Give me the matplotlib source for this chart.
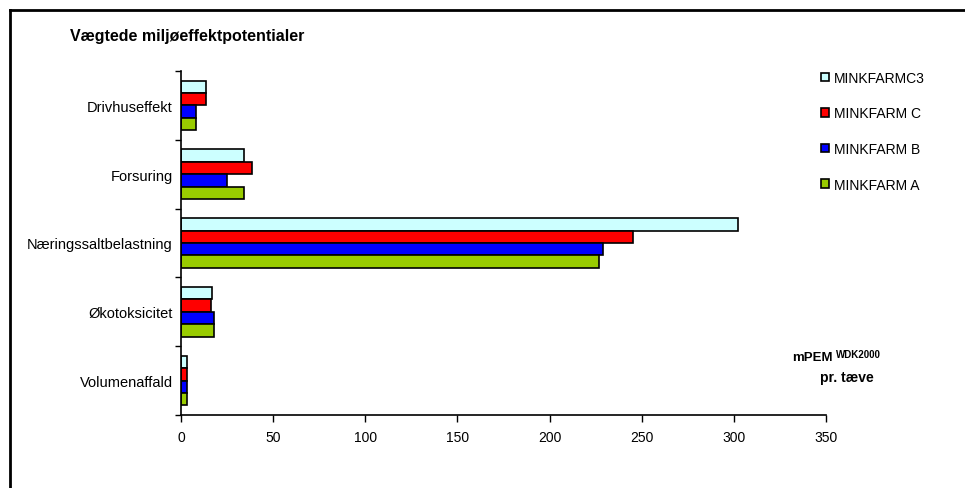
import matplotlib
matplotlib.use("Agg")
import matplotlib.pyplot as plt
import numpy as np
from matplotlib.lines import Line2D
from matplotlib.patches import Patch

plt.rcParams['font.family'] = ['Liberation Sans', 'DejaVu Sans']

categories = ["Drivhuseffekt", "Forsuring", "Næringssaltbelastning", "Økotoksicitet", "Volumenaffald"]
series_names = ["MINKFARMC3", "MINKFARM C", "MINKFARM B", "MINKFARM A"]
minkfarm_c3 = [13.5, 34, 302, 17, 3.5]
minkfarm_c = [13.5, 38.5, 245, 16.5, 3]
minkfarm_b = [8, 25, 229, 18, 3]
minkfarm_a = [8, 34, 227, 18, 3]
xticks = [0, 50, 100, 150, 200, 250, 300, 350]

series = [minkfarm_c3, minkfarm_c, minkfarm_b, minkfarm_a]
colors = ["#CCFFFF", "#FF0000", "#0000FF", "#99CC00"]

W, H = 965, 489
fig = plt.figure(figsize=(W / 100, H / 100), dpi=100)
ax = fig.add_axes([181 / W, 1 - 416 / H, (826 - 181) / W, (416 - 72) / H])

y = np.arange(len(categories))
bh = 0.18
offsets = [-0.27, -0.09, 0.09, 0.27]
for vals, col, off, name in zip(series, colors, offsets, series_names):
    ax.barh(y + off, vals, height=bh, color=col, edgecolor="black", linewidth=1.2, label=name)

ax.set_ylim(len(categories) - 0.5, -0.5)
ax.set_xlim(0, 350)
ax.set_yticks(y)
ax.set_yticklabels(categories, fontsize=10.5)
ax.set_yticks(np.arange(-0.5, len(categories), 1.0), minor=True)
ax.tick_params(axis='y', which='major', length=0, pad=6)
ax.tick_params(axis='y', which='minor', length=4, width=1, direction='out')
ax.set_xticks(xticks)
ax.set_xticklabels([str(v) for v in xticks], fontsize=10)
ax.tick_params(axis='x', length=5, width=1, direction='out', pad=6)
for s in ['top', 'right']:
    ax.spines[s].set_visible(False)
for s in ['left', 'bottom']:
    ax.spines[s].set_linewidth(1.2)

handles = [Patch(facecolor=c, edgecolor='black', linewidth=1.2) for c in colors]
fig.legend(handles, series_names, loc='upper left', bbox_to_anchor=(814 / W, 1 - 65 / H),
           frameon=False, fontsize=10, handlelength=0.55, handleheight=0.55, handletextpad=0.4,
           labelspacing=1.55, borderpad=0)

fig.text(70 / W, 1 - 37 / H, "Vægtede miljøeffektpotentialer", fontsize=11.5, fontweight='bold',
         ha='left', va='center')
fig.text(833 / W, 1 - 358 / H, "mPEM", fontsize=9.5, fontweight='bold', ha='right', va='center')
fig.text(836 / W, 1 - 355 / H, "WDK2000", fontsize=7, fontweight='bold', ha='left', va='center')
fig.text(847 / W, 1 - 378 / H, "pr. tæve", fontsize=10, fontweight='bold', ha='center', va='center')

fig.add_artist(Line2D([10 / W, 10 / W], [0, 1 - 11 / H], color='black', linewidth=2, transform=fig.transFigure))
fig.add_artist(Line2D([10 / W, 1], [1 - 11 / H, 1 - 11 / H], color='black', linewidth=2, transform=fig.transFigure))

fig.savefig("out.png", dpi=100)
